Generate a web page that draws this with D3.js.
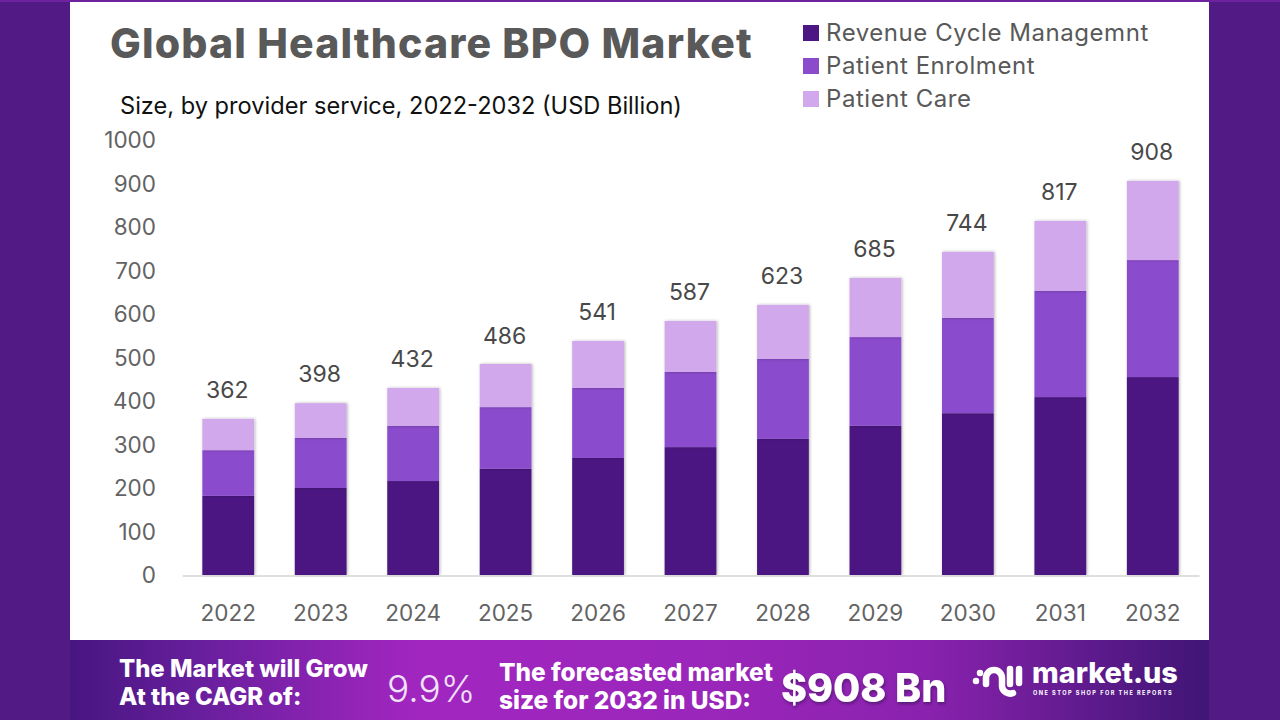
<!DOCTYPE html>
<html><head><meta charset="utf-8">
<script src="https://cdn.jsdelivr.net/npm/d3@7"></script>
<style>html,body{margin:0;padding:0;background:#521a84;overflow:hidden}svg{display:block}text{font-family:Inter,"Noto Sans",sans-serif}</style>
</head><body><svg id="c" width="1280" height="720"></svg>
<script>
const years=["2022","2023","2024","2025","2026","2027","2028","2029","2030","2031","2032"];
const revenueCycle=[182,200,216,244,269,294,313,343,372,409,455];
const patientEnrolment=[105,115,127,142,161,173,184,204,219,244,269];
const patientCare=[72,80,87,99,108,117,124,136,152,161,182];
const totals=[362,398,432,486,541,587,623,685,744,817,908];
const seriesNames=["Revenue Cycle Managemnt","Patient Enrolment","Patient Care"];
const seriesColors=["#4c1782","#8a4ccc","#d2a8ec"];
const yTicks=[0,100,200,300,400,500,600,700,800,900,1000];

const svg=d3.select("#c");
const defs=svg.append("defs");
const fg=defs.append("linearGradient").attr("id","foot");
[[0,"#471681"],[.12,"#6a1f9e"],[.3,"#a126c0"],[.55,"#9b26bb"],[.75,"#8a22ae"],[1,"#3f1575"]].forEach(s=>fg.append("stop").attr("offset",s[0]).attr("stop-color",s[1]));
const sh=defs.append("filter").attr("id","sh").attr("x","-20%").attr("y","-20%").attr("width","140%").attr("height","140%");
sh.append("feDropShadow").attr("dx",1).attr("dy",0).attr("stdDeviation",1.5).attr("flood-color","#000").attr("flood-opacity",.3);
const ts=defs.append("filter").attr("id","ts").attr("x","-10%").attr("y","-20%").attr("width","120%").attr("height","150%");
ts.append("feDropShadow").attr("dx",1).attr("dy",2).attr("stdDeviation",1.5).attr("flood-color","#300a50").attr("flood-opacity",.6);

svg.append("rect").attr("width",1280).attr("height",2).attr("fill","#6f22a0");
svg.append("rect").attr("x",70).attr("y",2).attr("width",1139).attr("height",638).attr("fill","#fff");
svg.append("rect").attr("x",70).attr("y",640).attr("width",1139).attr("height",80).attr("fill","url(#foot)");

const x=d3.scaleBand().domain(years).range([182,1199]).paddingInner(.44).paddingOuter(.22);
const y=d3.scaleLinear().domain([0,1000]).range([575,140]);

const rows=years.map((yr,i)=>({year:yr,a:revenueCycle[i],b:patientEnrolment[i],c:patientCare[i]}));
const stacked=d3.stack().keys(["a","b","c"])(rows);

svg.append("g").selectAll("g").data(stacked).join("g").attr("fill",(d,i)=>seriesColors[i]).attr("filter","url(#sh)")
  .selectAll("rect").data(d=>d).join("rect")
  .attr("x",d=>x(d.data.year)).attr("width",x.bandwidth())
  .attr("y",d=>y(d[1])).attr("height",d=>y(d[0])-y(d[1]));

const ax=svg.append("g").attr("transform","translate(0,575.5)").call(d3.axisBottom(x).tickSize(0).tickPadding(30));
ax.select(".domain").attr("stroke","#d4d4d4").attr("stroke-width",1.5);
ax.selectAll("text").attr("fill","#636363").style("font-size","22.5px").style("font-family","Inter");

const ay=svg.append("g").attr("transform","translate(156,0.5)").call(d3.axisLeft(y).tickValues(yTicks).tickSize(0).tickPadding(0).tickFormat(d3.format("d")));
ay.select(".domain").remove();
ay.selectAll("text").attr("fill","#636363").style("font-size","22.5px").style("font-family","Inter");

svg.append("g").selectAll("text").data(rows).join("text")
  .attr("x",d=>x(d.year)+x.bandwidth()/2-1).attr("y",(d,i)=>y(totals[i])-20)
  .attr("text-anchor","middle").attr("fill","#484848").style("font-size","23px")
  .text((d,i)=>totals[i]);

svg.append("text").attr("x",110).attr("y",58).attr("fill","#595959").style("font-size","41px").style("font-weight",800).style("letter-spacing","1.15px").text("Global Healthcare BPO Market");
svg.append("text").attr("x",120).attr("y",114).attr("fill","#111").style("font-size","23.6px").text("Size, by provider service, 2022-2032 (USD Billion)");

const lg=svg.append("g").selectAll("g").data(seriesNames).join("g").attr("transform",(d,i)=>`translate(803,${25+i*33})`);
lg.append("rect").attr("width",16).attr("height",16).attr("fill",(d,i)=>seriesColors[i]);
lg.append("text").attr("x",23).attr("y",16).attr("fill","#595959").style("font-size","24px").style("letter-spacing",".55px").text(d=>d);

const foot=svg.append("g").attr("fill","#fff");
function ft(tx,ty,size,weight,s,f){const t=foot.append("text").attr("x",tx).attr("y",ty).style("font-size",size+"px").style("font-weight",weight).text(s);if(f)t.attr("filter","url(#ts)");return t;}
ft(119,677,23.9,800,"The Market will Grow");
ft(119,705,23.9,800,"At the CAGR of:");
ft(387,702,37,300,"9.9%").attr("fill","#f0e2f7");
ft(499,681,24.4,800,"The forecasted market");
ft(499,709,24.4,800,"size for 2032 in USD:");
ft(781,702,39.4,800,"$908 Bn",true);

const logo=svg.append("g").attr("fill","none").attr("stroke","#fff").attr("stroke-linecap","round").attr("stroke-width",6.5);
logo.append("path").attr("d","M986 684 V678 A8 8 0 0 1 1002 678 V686 A8 8 0 0 0 1013 693");
logo.append("path").attr("d","M1010 669 V684");
logo.append("path").attr("d","M1019 669 V683");
logo.append("circle").attr("cx",976).attr("cy",681).attr("r",1.5).attr("stroke-width",3.5);
logo.append("circle").attr("cx",980).attr("cy",673).attr("r",1.5).attr("stroke-width",3.5);
foot.append("text").attr("x",1032).attr("y",683).style("font-size","28.8px").style("font-weight",800).text("market.us");
foot.append("text").attr("x",1033).attr("y",695).style("font-size","5.6px").style("font-weight",700).style("letter-spacing","1.45px").text("ONE STOP SHOP FOR THE REPORTS");
</script></body></html>
